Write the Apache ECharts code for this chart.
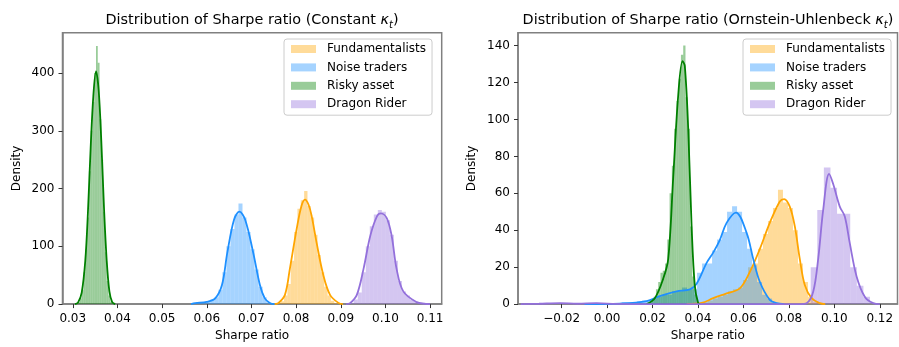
<!DOCTYPE html>
<html>
<head>
<meta charset="utf-8">
<script src="https://cdn.jsdelivr.net/npm/echarts@6/dist/echarts.min.js"></script>
<style>
  html, body { margin: 0; padding: 0; background: #ffffff; }
  #chart { width: 899px; height: 347px; }
</style>
</head>
<body>
<div id="chart"></div>
<script>
// ---- Constant kappa: histograms (bin start, bin width, densities) and KDE curves ----
const fundLeftBinStart = 0.0758, fundLeftBinWidth = 0.00075;
const fundLeftHist = [2, 5, 15, 35, 75, 125, 165, 180, 196, 170, 150, 120, 85, 55, 30, 15, 6, 2];
const fundLeftKde = [[0.0750, 0], [0.0760, 1.7], [0.0775, 16], [0.0786, 61], [0.0801, 129], [0.0812, 170],
  [0.0820, 181], [0.0828, 172], [0.0835, 152], [0.0846, 106], [0.0861, 50], [0.0876, 16], [0.0895, 2], [0.0905, 0]];

const noiseLeftBinStart = 0.0572, noiseLeftBinWidth = 0.0009;
const noiseLeftHist = [1, 2, 2, 4, 8, 12, 25, 55, 100, 130, 155, 174, 150, 125, 95, 60, 30, 12, 3];
const noiseLeftKde = [[0.0565, 0], [0.0574, 1.7], [0.0600, 4], [0.0619, 10], [0.0634, 33], [0.0646, 89], [0.0661, 146],
  [0.0673, 160], [0.0686, 146], [0.0704, 89], [0.0719, 33], [0.0730, 10], [0.0742, 1.5], [0.0752, 0]];

const riskyLeftBinStart = 0.0312, riskyLeftBinWidth = 0.0004;
const riskyLeftHist = [3, 10, 25, 55, 95, 150, 230, 300, 350, 400, 447, 418, 320, 250, 160, 90, 40, 15, 4];
const riskyLeftKde = [[0.0305, 0], [0.0312, 3], [0.0320, 20], [0.0328, 75], [0.0334, 160], [0.0340, 270], [0.0346, 360],
  [0.0352, 403], [0.0358, 370], [0.0364, 280], [0.0370, 165], [0.0376, 75], [0.0382, 22], [0.0388, 4], [0.0395, 0]];

const dragonLeftBinStart = 0.0920, dragonLeftBinWidth = 0.0009;
const dragonLeftHist = [2, 8, 20, 55, 100, 135, 155, 163, 160, 145, 120, 75, 40, 22, 15, 8, 4, 2, 1];
const dragonLeftKde = [[0.0912, 0], [0.0921, 1.7], [0.0936, 16], [0.0951, 61], [0.0966, 118], [0.0981, 152],
  [0.0990, 157], [0.1003, 149], [0.1014, 118], [0.1025, 61], [0.1040, 22], [0.1070, 3.4], [0.1089, 0.6], [0.1100, 0]];

// ---- Ornstein-Uhlenbeck kappa ----
const fundRightBinStart = 0.0400, fundRightBinWidth = 0.0022;
const fundRightHist = [0.5, 1, 2, 3, 4, 5, 7, 8, 9, 13, 20, 22, 30, 38, 45, 52, 62, 55, 52, 40, 22, 12, 4, 1];
const fundRightKde = [[0.0350, 0], [0.0416, 0.6], [0.0467, 3.2], [0.0526, 5.8], [0.0584, 8.5], [0.0628, 17.4],
  [0.0672, 29.8], [0.0716, 44], [0.0760, 55.6], [0.0779, 56.9], [0.0804, 52.8], [0.0826, 42.2], [0.0848, 24.5],
  [0.0870, 10.3], [0.0900, 3.2], [0.0936, 0.5], [0.0960, 0]];

const noiseRightBinStart = 0.0000, noiseRightBinWidth = 0.0022;
const noiseRightHist = [0.5, 0.5, 0.5, 1, 1, 1, 1.5, 2, 2, 3, 4, 5, 5, 7, 7, 9, 8, 8, 17, 22, 22, 29, 35, 39,
  50, 53, 50, 39, 30, 21, 12, 5, 3, 1];
const noiseRightKde = [[-0.0100, 0], [0.0057, 0.3], [0.0174, 1.6], [0.0232, 4.3], [0.0306, 6.9], [0.0365, 8.0],
  [0.0394, 11], [0.0438, 22.3], [0.0467, 27.9], [0.0496, 34.7], [0.0526, 44], [0.0567, 49.6], [0.0614, 38.6],
  [0.0643, 24.5], [0.0672, 12.1], [0.0716, 2.3], [0.0746, 0.5], [0.0780, 0]];

const riskyRightBinStart = 0.0195, riskyRightBinWidth = 0.0010;
const riskyRightHist = [2, 4, 8, 12, 17, 18, 22, 35, 60, 75, 95, 110, 122, 135, 140, 112, 95, 42, 15, 5, 1];
const riskyRightKde = [[0.0174, 0], [0.0210, 3.2], [0.0247, 13.8], [0.0269, 24.4], [0.0291, 68.6], [0.0313, 113],
  [0.0332, 131.6], [0.0342, 129], [0.0357, 95], [0.0372, 42], [0.0386, 10], [0.0401, 0.4], [0.0410, 0]];

const dragonRightBinStart = 0.0867, dragonRightBinWidth = 0.0029;
const dragonRightHist = [0.5, 20, 51, 74, 63, 49, 49, 20, 10, 4, 0.5];
const dragonRightKde = [[-0.0380, 0], [-0.0300, 0.2], [-0.0207, 0.5], [-0.0130, 0.2], [-0.0046, 0.5], [0.0040, 0.1],
  [0.0200, 0], [0.0850, 0], [0.0878, 0.5], [0.0907, 6.7], [0.0929, 24.5], [0.0951, 51], [0.0977, 70.5], [0.0995, 65],
  [0.1024, 52.8], [0.1046, 47.5], [0.1068, 33], [0.1098, 15], [0.1134, 4], [0.1171, 0.5], [0.1200, 0]];

// ---- axes ----
const leftXTicks = [0.03, 0.04, 0.05, 0.06, 0.07, 0.08, 0.09, 0.10, 0.11];
const leftYTicks = [0, 100, 200, 300, 400];
const rightXTicks = [-0.02, 0.00, 0.02, 0.04, 0.06, 0.08, 0.10, 0.12];
const rightYTicks = [0, 20, 40, 60, 80, 100, 120, 140];

const seriesNames = ['Fundamentalists', 'Noise traders', 'Risky asset', 'Dragon Rider'];
const lineColors = ['#FFA500', '#1E90FF', '#008000', '#9370DB'];
const fillColors = ['rgba(255,165,0,0.4)', 'rgba(30,144,255,0.4)', 'rgba(0,128,0,0.4)', 'rgba(147,112,219,0.4)'];

const FONT = 'DejaVu Sans';

function binsOf(start, width, heights) {
  return heights.map((h, i) => [start + i * width, start + (i + 1) * width, h]);
}

function renderBar(params, api) {
  const topLeft = api.coord([api.value(0), api.value(2)]);
  const bottomRight = api.coord([api.value(1), 0]);
  return {
    type: 'rect',
    shape: { x: topLeft[0], y: topLeft[1], width: bottomRight[0] - topLeft[0], height: bottomRight[1] - topLeft[1] },
    style: { fill: api.visual('color') }
  };
}

const panels = [
  { hists: [[fundLeftBinStart, fundLeftBinWidth, fundLeftHist], [noiseLeftBinStart, noiseLeftBinWidth, noiseLeftHist],
            [riskyLeftBinStart, riskyLeftBinWidth, riskyLeftHist], [dragonLeftBinStart, dragonLeftBinWidth, dragonLeftHist]],
    kdes: [fundLeftKde, noiseLeftKde, riskyLeftKde, dragonLeftKde] },
  { hists: [[fundRightBinStart, fundRightBinWidth, fundRightHist], [noiseRightBinStart, noiseRightBinWidth, noiseRightHist],
            [riskyRightBinStart, riskyRightBinWidth, riskyRightHist], [dragonRightBinStart, dragonRightBinWidth, dragonRightHist]],
    kdes: [fundRightKde, noiseRightKde, riskyRightKde, dragonRightKde] }
];

const series = [];
panels.forEach((panel, p) => {
  seriesNames.forEach((name, k) => {
    const h = panel.hists[k];
    series.push({
      type: 'custom', name: name, xAxisIndex: p, yAxisIndex: p,
      renderItem: renderBar, clip: true,
      encode: { x: [0, 1], y: 2 },
      itemStyle: { color: fillColors[k] },
      data: binsOf(h[0], h[1], h[2])
    });
    series.push({
      type: 'line', name: name + ' density', xAxisIndex: p, yAxisIndex: p,
      data: panel.kdes[k], smooth: 0.35, showSymbol: false, clip: true,
      lineStyle: { color: lineColors[k], width: 1.8 }, itemStyle: { color: lineColors[k] }
    });
  });
});

const tickFmt = v => (v < 0 ? '\u2212' : '') + Math.abs(v).toFixed(2);

function xAxis(grid, min, max, ticks) {
  return {
    type: 'value', gridIndex: grid, min: min, max: max,
    name: 'Sharpe ratio', nameLocation: 'middle', nameGap: 24,
    nameTextStyle: { fontFamily: FONT, fontSize: 12, color: '#000' },
    axisLine: { show: true, onZero: false, lineStyle: { color: '#808080', width: 1.5 } },
    axisTick: { show: true, length: 4, customValues: ticks, lineStyle: { color: '#333', width: 1 } },
    axisLabel: { customValues: ticks, formatter: tickFmt, margin: 9, fontFamily: FONT, fontSize: 12, color: '#000' },
    splitLine: { show: false }
  };
}
function yAxis(grid, max, ticks) {
  return {
    type: 'value', gridIndex: grid, min: 0, max: max,
    name: 'Density', nameLocation: 'middle', nameGap: 40, nameRotate: 90,
    nameTextStyle: { fontFamily: FONT, fontSize: 12, color: '#000' },
    axisLine: { show: true, onZero: false, lineStyle: { color: '#808080', width: 1.5 } },
    axisTick: { show: true, length: 4, customValues: ticks, lineStyle: { color: '#333', width: 1 } },
    axisLabel: { customValues: ticks, margin: 8, fontFamily: FONT, fontSize: 12, color: '#000' },
    splitLine: { show: false }
  };
}

function legend(left) {
  return {
    orient: 'vertical', left: left, top: 39,
    data: seriesNames.map((n, k) => ({ name: n, icon: 'rect', itemStyle: { color: fillColors[k] } })),
    itemWidth: 25, itemHeight: 8, itemGap: 4.4,
    padding: [3, 6, 4, 7],
    backgroundColor: 'rgba(255,255,255,0.8)', borderColor: '#cccccc', borderWidth: 1, borderRadius: 3,
    textStyle: { fontFamily: FONT, fontSize: 12, color: '#000', lineHeight: 14, padding: [0, 0, 0, 6] },
    selectedMode: false
  };
}

function title(center, label) {
  return {
    text: '{n|Distribution of Sharpe ratio (' + label + ' }{k|\u03BA}{s|t}{n|)}',
    left: center, top: 10, textAlign: 'center', padding: 0,
    textStyle: {
      fontWeight: 'normal',
      rich: {
        n: { fontFamily: FONT, fontSize: 14.4, fontWeight: 'normal', color: '#000', lineHeight: 20 },
        k: { fontFamily: FONT, fontSize: 14.4, fontWeight: 'normal', fontStyle: 'italic', color: '#000', lineHeight: 20 },
        s: { fontFamily: FONT, fontSize: 10, fontWeight: 'normal', fontStyle: 'italic', color: '#000', lineHeight: 10, verticalAlign: 'bottom' }
      }
    }
  };
}

const option = {
  animation: false,
  backgroundColor: '#ffffff',
  title: [title(252, 'Constant'), title(708, 'Ornstein-Uhlenbeck')],
  legend: [legend(284), legend(743)],
  grid: [
    { left: 62.5, top: 32.7, width: 379.2, height: 276.6, show: true, borderColor: '#808080', borderWidth: 1.5, backgroundColor: 'transparent' },
    { left: 518, top: 32.7, width: 379.5, height: 276.6, show: true, borderColor: '#808080', borderWidth: 1.5, backgroundColor: 'transparent' }
  ],
  xAxis: [xAxis(0, 0.0277, 0.1126, leftXTicks), xAxis(1, -0.0392, 0.1278, rightXTicks)],
  yAxis: [yAxis(0, 470, leftYTicks), yAxis(1, 147, rightYTicks)],
  series: series
};

const chart = echarts.init(document.getElementById('chart'), null, { renderer: 'canvas' });
chart.setOption(option);
</script>
</body>
</html>
